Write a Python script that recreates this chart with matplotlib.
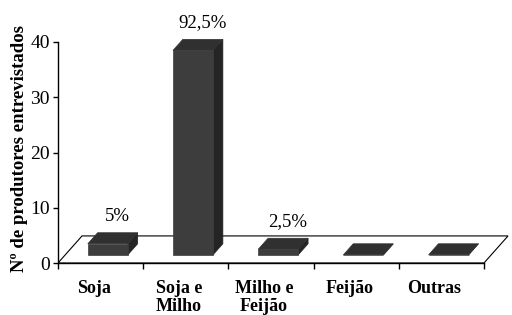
import matplotlib

matplotlib.use("Agg")
import matplotlib.pyplot as plt
from matplotlib.patches import Polygon
from matplotlib.transforms import ScaledTranslation

# ---------------------------------------------------------------------------
# Data
# ---------------------------------------------------------------------------
categories = ["Soja", "Soja e\nMilho", "Milho e\nFeijão", "Feijão", "Outras"]
counts = [2, 37, 1, 0, 0]
pct_labels = ["5%", "92,5%", "2,5%", None, None]
y_ticks = [0, 10, 20, 30, 40]

# pseudo-3D geometry (in data units)
_DEPTH = (0.282, 4.9)       # floor depth vector
_D0, _D1 = 0.30, 0.71       # bar front / back depth fractions
_BAR_W = 0.47

_FRONT = "#3d3d3d"
_TOP = "#303030"
_SIDE = "#242424"

plt.rcParams["font.family"] = ["Liberation Serif", "DejaVu Serif"]


def _pt(x, v, d):
    return (x + d * _DEPTH[0], v + d * _DEPTH[1])


fig = plt.figure(figsize=(5.12, 3.15), dpi=100)
ax = fig.add_axes([58 / 512, 52 / 315, 454 / 512, 263 / 315])
n = len(categories)
ax.set_xlim(0, 454 / 85.2)
ax.set_ylim(0, 263 / 5.525)

# floor
floor = [_pt(0, 0, 0), _pt(n, 0, 0), _pt(n, 0, 1), _pt(0, 0, 1)]
ax.add_patch(Polygon(floor, closed=True, facecolor="white", edgecolor="black",
                     linewidth=0.8, zorder=1))

# bars
for i, v in enumerate(counts):
    xl = i + 0.5 - _BAR_W / 2
    xr = i + 0.5 + _BAR_W / 2
    side = [_pt(xr, 0, _D0), _pt(xr, 0, _D1), _pt(xr, v, _D1), _pt(xr, v, _D0)]
    top = [_pt(xl, v, _D0), _pt(xr, v, _D0), _pt(xr, v, _D1), _pt(xl, v, _D1)]
    front = [_pt(xl, 0, _D0), _pt(xr, 0, _D0), _pt(xr, v, _D0), _pt(xl, v, _D0)]
    for poly, col in ((side, _SIDE), (top, _TOP), (front, _FRONT)):
        ax.add_patch(Polygon(poly, closed=True, facecolor=col, edgecolor=col,
                             linewidth=0.5, zorder=3))
    if pct_labels[i]:
        lx, ly = _pt(i + 0.5, v, _D1)
        ax.text(lx, ly + 3.0, pct_labels[i], ha="center", va="center",
                fontsize=13.5, zorder=4)

# axes
for s in ("top", "right"):
    ax.spines[s].set_visible(False)
ax.spines["left"].set_bounds(0, 40)
ax.spines["bottom"].set_bounds(0, n)
ax.spines["left"].set_linewidth(1.0)
ax.spines["bottom"].set_linewidth(1.0)
ax.set_yticks(y_ticks)
ax.set_yticklabels([str(t) for t in y_ticks], fontsize=14)
ax.tick_params(axis="y", direction="out", length=3.5, width=1.0, pad=2.5)
ax.set_xticks(range(n + 1))
ax.set_xticklabels([])
ax.tick_params(axis="x", direction="out", length=4, width=1.0)

offset = ScaledTranslation(-7 / 100, 0, fig.dpi_scale_trans)
for i, cat in enumerate(categories):
    ax.text(i + 0.5, -3.0, cat, ha="center", va="top", fontsize=13,
            fontweight="bold", linespacing=1.08,
            transform=ax.transData + offset, clip_on=False)

fig.text(20 / 512, 1 - 148 / 315, "Nº de produtores entrevistados",
         rotation=90, ha="center", va="center", fontsize=13.5, fontweight="bold")

fig.savefig("out.png", dpi=100)
